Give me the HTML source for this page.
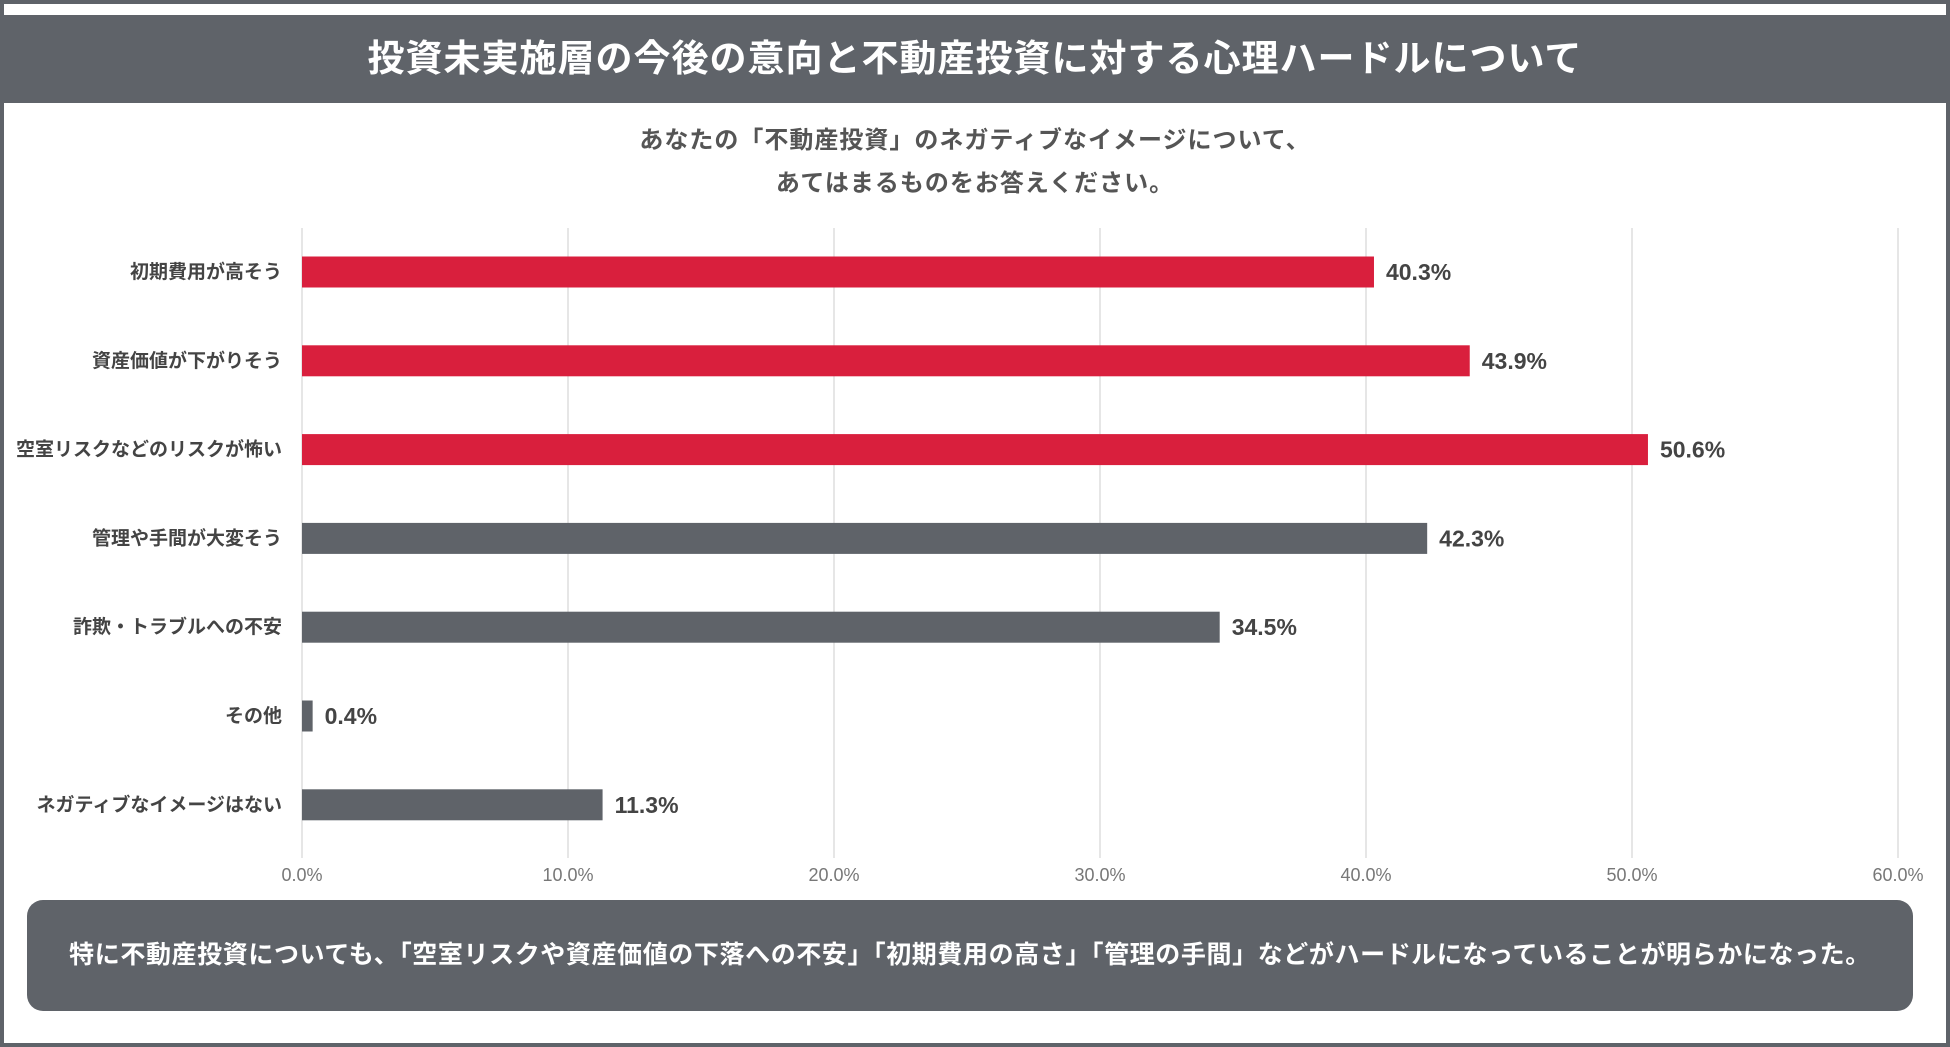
<!DOCTYPE html>
<html><head><meta charset="utf-8">
<style>
html,body{margin:0;padding:0}
body{width:1950px;height:1047px;position:relative;background:#fff;overflow:hidden;font-family:"Liberation Sans","Noto Sans CJK JP",sans-serif}
.frame{position:absolute;left:0;top:0;width:1942px;height:1039px;border:4px solid #5f6369}
.header{position:absolute;left:4px;top:15px;width:1942px;height:88px;background:#5f6369;color:#fff;font-size:37px;letter-spacing:1px;font-weight:bold;text-align:center;line-height:88px}
.sub{position:absolute;left:0;width:1950px;text-align:center;color:#555;font-size:24px;letter-spacing:1px;font-weight:bold}
.box{position:absolute;left:27px;top:900px;width:1886px;height:111px;background:#5f6369;border-radius:16px;color:#fff;font-size:25px;letter-spacing:0.6px;font-weight:bold;text-align:center;line-height:111px}
</style></head><body>
<div class="frame"></div>
<div class="header">投資未実施層の今後の意向と不動産投資に対する心理ハードルについて</div>
<div class="sub" style="top:120px">あなたの「不動産投資」のネガティブなイメージについて、</div>
<div class="sub" style="top:163px">あてはまるものをお答えください。</div>
<svg id="chart" width="1950" height="1047" style="position:absolute;left:0;top:0"></svg>
<div class="box">特に不動産投資についても、「空室リスクや資産価値の下落への不安」「初期費用の高さ」「管理の手間」などがハードルになっていることが明らかになった。</div>
<script>
const categories=["初期費用が高そう","資産価値が下がりそう","空室リスクなどのリスクが怖い","管理や手間が大変そう","詐欺・トラブルへの不安","その他","ネガティブなイメージはない"];
const values=[40.3,43.9,50.6,42.3,34.5,0.4,11.3];
const highlight=[true,true,true,false,false,false,false];
const ticks=[0,10,20,30,40,50,60];
const tickLabels=["0.0%","10.0%","20.0%","30.0%","40.0%","50.0%","60.0%"];
const ns="http://www.w3.org/2000/svg";
const svg=document.getElementById('chart');
const x=v=>302+v*(1898-302)/60;
const y=i=>272+i*88.8;
function mk(t,a){const e=document.createElementNS(ns,t);for(const k in a)e.setAttribute(k,a[k]);svg.appendChild(e);return e;}
ticks.forEach((t,i)=>{
  const g=mk('line',{x1:x(t),x2:x(t),y1:228,y2:858,stroke:'#dddddd','stroke-width':1.5});
  
  
  const l=mk('text',{x:x(t),y:881,fill:'#777','font-size':18,'text-anchor':'middle'});
  l.textContent=tickLabels[i];
  
  
});
categories.forEach((c,i)=>{
  const b=mk('rect',{x:x(0),y:y(i)-15.5,width:x(values[i])-x(0),height:31,fill:highlight[i]?'#d91f3d':'#5f6369'});
  
  
  const l=mk('text',{x:282,y:y(i)+6,fill:'#444','font-size':19,'font-weight':'bold','text-anchor':'end'});
  l.textContent=c;
  
  
  const v=mk('text',{x:x(values[i])+12,y:y(i)+8,fill:'#444','font-size':23,'font-weight':'bold'});
  v.textContent=values[i].toFixed(1)+'%';
  
  
});
</script>
</body></html>
